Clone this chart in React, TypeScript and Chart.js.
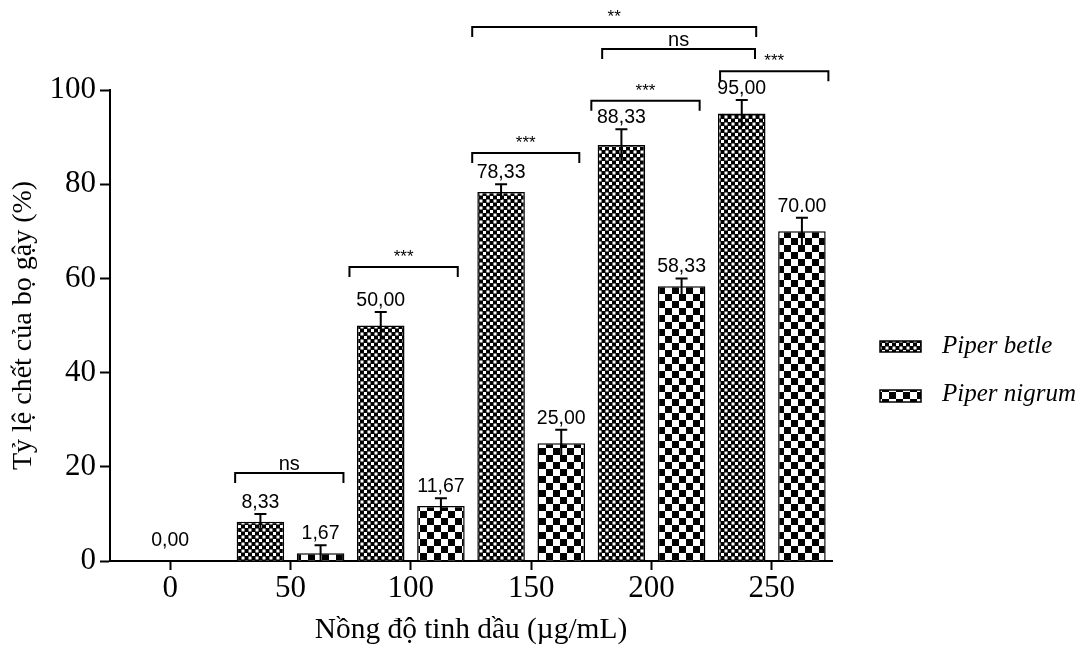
import React, { useEffect, useRef } from 'react';
import { Chart, registerables } from 'chart.js';

Chart.register(...registerables);

const categories = ['0', '50', '100', '150', '200', '250'];
const seriesNames = ['Piper betle', 'Piper nigrum'];
const betleValues = [0, 8.33, 50, 78.33, 88.33, 95];
const nigrumValues = [0, 1.67, 11.67, 25, 58.33, 70];
const betleErrors = [0, 1.67, 2.89, 1.67, 3.33, 2.89];
const nigrumErrors = [0, 1.67, 1.67, 2.89, 1.67, 2.89];
const betleLabels = ['0,00', '8,33', '50,00', '78,33', '88,33', '95,00'];
const nigrumLabels = ['0,00', '1,67', '11,67', '25,00', '58,33', '70.00'];
const yTickValues = [0, 20, 40, 60, 80, 100];
const xTitle = 'Nồng độ tinh dầu (µg/mL)';
const yTitle = 'Tỷ lệ chết của bọ gậy (%)';

// significance brackets (category-index units for ends, value units for level)
const bracketFrom = [0.54, 1.49, 2.51, 3.5, 4.57, 3.59, 2.51];
const bracketTo = [1.44, 2.39, 3.4, 4.4, 5.47, 4.86, 4.87];
const bracketLevel = [18.7, 62.4, 86.6, 97.7, 104, 108.7, 113.4];
const bracketText = ['ns', '***', '***', '***', '***', 'ns', '**'];

const SERIF = '"Liberation Serif", "Times New Roman", serif';
const SANS = '"Liberation Sans", Arial, sans-serif';

function makePattern(tile: number, cell: number): CanvasPattern | string {
  const c = document.createElement('canvas');
  c.width = tile;
  c.height = tile;
  const g = c.getContext('2d');
  if (!g) return '#000';
  g.fillStyle = '#000';
  g.fillRect(0, 0, tile, tile);
  g.fillStyle = '#fff';
  g.fillRect(0, 0, cell, cell);
  g.fillRect(tile / 2, tile / 2, cell, cell);
  const p = g.createPattern(c, 'repeat');
  return p || '#000';
}

export default function App() {
  const ref = useRef<HTMLCanvasElement | null>(null);

  useEffect(() => {
    document.body.style.margin = '0';
    const canvas = ref.current;
    if (!canvas) return;
    const betlePattern = makePattern(7, 3);
    const nigrumPattern = makePattern(14, 7);
    const patterns = [betlePattern, nigrumPattern];
    const errors = [betleErrors, nigrumErrors];
    const labels = [betleLabels, nigrumLabels];

    const overlay = {
      id: 'overlay',
      afterDatasetsDraw(chart: any) {
        const ctx = chart.ctx as CanvasRenderingContext2D;
        const ys = chart.scales.y;
        const xs = chart.scales.x;
        ctx.save();
        // error bars
        ctx.strokeStyle = '#000';
        ctx.lineWidth = 2;
        for (let d = 0; d < 2; d++) {
          const meta = chart.getDatasetMeta(d);
          const vals = chart.data.datasets[d].data as number[];
          meta.data.forEach((el: any, i: number) => {
            const err = errors[d][i];
            const v = vals[i];
            if (!err) return;
            const x = el.x;
            const yTop = ys.getPixelForValue(v + err);
            const yBot = ys.getPixelForValue(v - err);
            ctx.beginPath();
            ctx.moveTo(x, yBot);
            ctx.lineTo(x, yTop);
            ctx.moveTo(x - 6, yTop);
            ctx.lineTo(x + 6, yTop);
            ctx.stroke();
          });
        }
        // value labels
        ctx.fillStyle = '#000';
        ctx.font = `19.5px ${SANS}`;
        ctx.textAlign = 'center';
        ctx.textBaseline = 'alphabetic';
        for (let i = 0; i < categories.length; i++) {
          if (betleValues[i] === 0 && nigrumValues[i] === 0) {
            ctx.fillText(betleLabels[i], xs.getPixelForValue(i), ys.getPixelForValue(0) - 15);
            continue;
          }
          for (let d = 0; d < 2; d++) {
            const el = chart.getDatasetMeta(d).data[i];
            const v = (chart.data.datasets[d].data as number[])[i];
            const y = ys.getPixelForValue(v + errors[d][i]) - 6;
            ctx.fillText(labels[d][i], el.x, y);
          }
        }
        // significance brackets
        for (let b = 0; b < bracketFrom.length; b++) {
          const x1 = xs.getPixelForValue(bracketFrom[b]);
          const x2 = xs.getPixelForValue(bracketTo[b]);
          const y = ys.getPixelForValue(bracketLevel[b]);
          ctx.beginPath();
          ctx.moveTo(x1, y + 10);
          ctx.lineTo(x1, y);
          ctx.lineTo(x2, y);
          ctx.lineTo(x2, y + 10);
          ctx.stroke();
          const t = bracketText[b];
          if (t === 'ns') {
            ctx.font = `20px ${SANS}`;
            ctx.fillText(t, (x1 + x2) / 2, y - 3);
          } else {
            ctx.font = `17px ${SANS}`;
            ctx.fillText(t, (x1 + x2) / 2, y - 5);
          }
        }
        // legend
        const lx = chart.chartArea.right + 48;
        const items = [
          { y: 341, h: 11, base: 353 },
          { y: 390, h: 12, base: 401 },
        ];
        ctx.font = `italic 25px ${SERIF}`;
        ctx.textAlign = 'left';
        items.forEach((it, d) => {
          ctx.fillStyle = patterns[d] as any;
          ctx.fillRect(lx, it.y, 41, it.h);
          ctx.lineWidth = 1.5;
          ctx.strokeRect(lx, it.y, 41, it.h);
          ctx.fillStyle = '#000';
          ctx.fillText(seriesNames[d], lx + 62, it.base);
        });
        ctx.restore();
      },
    };

    const chart = new Chart(canvas, {
      type: 'bar',
      data: {
        labels: categories,
        datasets: [
          {
            label: seriesNames[0],
            data: betleValues,
            backgroundColor: betlePattern as any,
            borderColor: '#000',
            borderWidth: 1.5,
            categoryPercentage: 1.0,
            barPercentage: 0.79,
          },
          {
            label: seriesNames[1],
            data: nigrumValues,
            backgroundColor: nigrumPattern as any,
            borderColor: '#000',
            borderWidth: 1.5,
            categoryPercentage: 1.0,
            barPercentage: 0.79,
          },
        ],
      },
      options: {
        responsive: false,
        animation: false,
        layout: { padding: { top: 90, right: 253, bottom: 0, left: 0 } },
        plugins: {
          legend: { display: false },
          tooltip: { enabled: false },
        },
        scales: {
          x: {
            type: 'category',
            offset: true,
            grid: {
              display: true,
              drawOnChartArea: false,
              drawTicks: true,
              offset: false,
              tickLength: 9,
              tickWidth: 2,
              tickColor: '#000',
            },
            border: { display: true, color: '#000', width: 2 },
            ticks: {
              color: '#000',
              padding: 0,
              font: { family: SERIF, size: 31 },
              maxRotation: 0,
            },
            title: {
              display: true,
              text: xTitle,
              color: '#000',
              font: { family: SERIF, size: 29.4 },
              padding: { top: 0, bottom: 1 },
            },
            afterFit: (s: any) => {
              s.height = 88;
            },
          },
          y: {
            min: 0,
            max: 100,
            grid: {
              display: true,
              drawOnChartArea: false,
              drawTicks: true,
              tickLength: 10,
              tickWidth: 2,
              tickColor: '#000',
            },
            border: { display: true, color: '#000', width: 2 },
            afterBuildTicks: (s: any) => {
              s.ticks = yTickValues.map((v) => ({ value: v }));
            },
            ticks: {
              color: '#000',
              padding: 4,
              font: { family: SERIF, size: 31 },
            },
            title: {
              display: true,
              text: yTitle,
              color: '#000',
              font: { family: SERIF, size: 28 },
              padding: { top: 7, bottom: 0 },
            },
            afterFit: (s: any) => {
              s.width = 110;
            },
          },
        },
      },
      plugins: [overlay],
    });
    return () => chart.destroy();
  }, []);

  return (
    <div style={{ position: 'absolute', left: 0, top: 0, width: 1085, height: 649, background: '#fff' }}>
      <canvas ref={ref} width={1085} height={649} style={{ display: 'block' }} />
    </div>
  );
}
